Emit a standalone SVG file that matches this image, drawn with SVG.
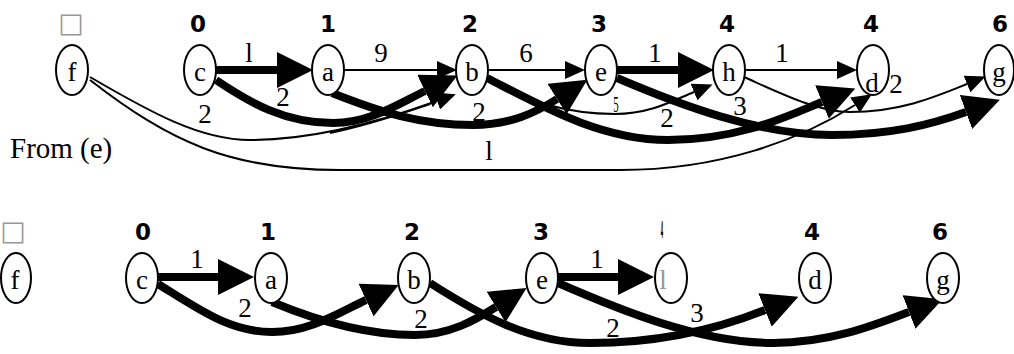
<svg xmlns="http://www.w3.org/2000/svg" width="1014" height="354" viewBox="0 0 1014 354">
  <style>
    .node ellipse { fill: #fff; stroke: #000; stroke-width: 2; }
    .nlabel { font-family: "Liberation Serif", "Times New Roman", serif; font-size: 27px; text-anchor: middle; fill: #000; }
    .dist { font-family: "DejaVu Sans", "Liberation Sans", sans-serif; font-size: 23px; font-weight: bold; text-anchor: middle; fill: #000; }
    .tofu { font-family: "DejaVu Sans", sans-serif; font-size: 27px; text-anchor: middle; fill: #999; }
    .elabel { font-family: "Liberation Serif", "Times New Roman", serif; font-size: 27px; text-anchor: middle; fill: #000; }
    .thick { fill: none; stroke: #000; stroke-width: 8; }
    .thin { fill: none; stroke: #000; stroke-width: 2; }
    .thick-arrow { marker-end: url(#arrow-thick); }
    .thin-arrow { marker-end: url(#arrow-thin); }
  </style>
  <defs>
    <marker id="arrow-thick" markerUnits="userSpaceOnUse" viewBox="0 0 36 36" refX="0" refY="18" markerWidth="36" markerHeight="36" orient="auto">
      <path d="M0,0 L36,18 L0,36 Z" fill="#000"/>
    </marker>
    <marker id="arrow-thin" markerUnits="userSpaceOnUse" viewBox="0 0 20 18" refX="0" refY="9" markerWidth="20" markerHeight="18" orient="auto">
      <path d="M0,0 L20,9 L0,18 Z" fill="#000"/>
    </marker>
  </defs>
  <rect width="1014" height="354" fill="#fff"/>

  <!-- caption -->
  <text x="10" y="158" font-family="Liberation Serif, serif" font-size="29">From (e)</text>

  <!-- connectors: full graph (top) and shortest-path tree (bottom) -->
  <g id="connectors">
    <!-- top: straight edges -->
    <path class="thick thick-arrow" d="M216,70 L277,70"/>
    <path class="thin thin-arrow" d="M344,70 L437,70"/>
    <path class="thin thin-arrow" d="M488,70 L565,70"/>
    <path class="thick thick-arrow" d="M617,70 L678,70"/>
    <path class="thin thin-arrow" d="M745,70 L837,70"/>
    <!-- top: thin curved edges -->
    <path class="thin thin-arrow" d="M90,77 C150,112 200,140 250,140 C320,140 390,118 437,101"/>
    <path class="thin" d="M330,133 C370,125 400,114 430,104"/>
    <path class="thin thin-arrow" d="M90,80 C170,142 230,170 340,170 L620,170 C720,170 800,140 855,105"/>
    <path class="thin thin-arrow" d="M488,80 C525,100 565,114 615,114 C650,114 672,101 694,92"/>
    <path class="thin thin-arrow" d="M744,77 C780,93 818,112 850,112 C900,112 935,97 967,84"/>
    <!-- top: thick curved edges -->
    <path class="thick thick-arrow" d="M216,80 C250,103 285,123 333,123 C370,123 400,103 425,91"/>
    <path class="thick thick-arrow" d="M332,93 C380,112 420,125 473,125 C510,125 535,113 557,99"/>
    <path class="thick thick-arrow" d="M487,78 C540,105 600,140 668,140 C740,140 790,115 822,102"/>
    <path class="thick thick-arrow" d="M617,78 C680,105 760,135 832,135 C890,135 930,125 966,112"/>

    <!-- top: weights -->
    <text class="elabel" x="249" y="62">l</text>
    <text class="elabel" x="381" y="62">9</text>
    <text class="elabel" x="526" y="62">6</text>
    <text class="elabel" x="655" y="62">1</text>
    <text class="elabel" x="782" y="62">1</text>
    <text class="elabel" x="283" y="106" font-size="22">2</text>
    <text class="elabel" x="205" y="123">2</text>
    <text class="elabel" x="479" y="121">2</text>
    <text class="elabel" x="667" y="127">2</text>
    <text class="elabel" x="740" y="115">3</text>
    <text class="elabel" transform="translate(616,112) scale(0.4,0.85)">5</text>
    <text class="elabel" x="489" y="160">l</text>
    <text class="elabel" x="896" y="93">2</text>

    <!-- bottom: tree edges -->
    <path class="thick thick-arrow" d="M158,277 L218,277"/>
    <path class="thick thick-arrow" d="M558,277 L618,277"/>
    <path class="thick thick-arrow" d="M158,284 C200,310 230,332 272,332 C310,332 340,312 366,300"/>
    <path class="thick thick-arrow" d="M272,302 C320,322 370,335 415,335 C450,335 475,320 496,307"/>
    <path class="thick thick-arrow" d="M430,283 C480,315 530,343 590,343 C660,343 720,328 765,310"/>
    <path class="thick thick-arrow" d="M558,283 C620,310 700,343 773,343 C830,343 875,325 909,312"/>

    <!-- bottom: weights -->
    <text class="elabel" x="197" y="268">1</text>
    <text class="elabel" x="597" y="268">1</text>
    <text class="elabel" x="245" y="317">2</text>
    <text class="elabel" x="421" y="328">2</text>
    <text class="elabel" x="613" y="337">2</text>
    <text class="elabel" x="697" y="322">3</text>
  </g>

  <!-- top row nodes -->
  <g id="top-f" class="node"><ellipse cx="72" cy="70" rx="16" ry="25"/><text class="nlabel" x="72" y="81">f</text><text class="tofu" x="71" y="32">□</text></g>
  <g id="top-c" class="node"><ellipse cx="200" cy="70" rx="16" ry="25"/><text class="nlabel" x="200" y="81">c</text><text class="dist" x="198" y="32">0</text></g>
  <g id="top-a" class="node"><ellipse cx="328" cy="70" rx="16" ry="25"/><text class="nlabel" x="328" y="81">a</text><text class="dist" x="328" y="32">1</text></g>
  <g id="top-b" class="node"><ellipse cx="472" cy="70" rx="16" ry="25"/><text class="nlabel" x="472" y="81">b</text><text class="dist" x="470" y="32">2</text></g>
  <g id="top-e" class="node"><ellipse cx="601" cy="70" rx="16" ry="25"/><text class="nlabel" x="601" y="81">e</text><text class="dist" x="599" y="32">3</text></g>
  <g id="top-h" class="node"><ellipse cx="729" cy="70" rx="16" ry="25"/><text class="nlabel" x="729" y="81">h</text><text class="dist" x="727" y="32">4</text></g>
  <g id="top-d" class="node"><ellipse cx="873" cy="70" rx="16" ry="25"/><text class="nlabel" x="872" y="92">d</text><text class="dist" x="871" y="32">4</text></g>
  <g id="top-g" class="node"><ellipse cx="999" cy="70" rx="15" ry="25"/><text class="nlabel" x="999" y="81">g</text><text class="dist" x="1000" y="32">6</text></g>

  <!-- bottom row nodes -->
  <g id="tree-f" class="node"><ellipse cx="16" cy="278" rx="15" ry="25"/><text class="nlabel" x="15" y="289">f</text><text class="tofu" x="13" y="240">□</text></g>
  <g id="tree-c" class="node"><ellipse cx="142" cy="278" rx="16" ry="25"/><text class="nlabel" x="142" y="289">c</text><text class="dist" x="143" y="240">0</text></g>
  <g id="tree-a" class="node"><ellipse cx="271" cy="278" rx="16" ry="25"/><text class="nlabel" x="271" y="289">a</text><text class="dist" x="268" y="240">1</text></g>
  <g id="tree-b" class="node"><ellipse cx="414" cy="278" rx="16" ry="25"/><text class="nlabel" x="414" y="289">b</text><text class="dist" x="412" y="240">2</text></g>
  <g id="tree-e" class="node"><ellipse cx="542" cy="278" rx="16" ry="25"/><text class="nlabel" x="542" y="289">e</text><text class="dist" x="541" y="240">3</text></g>
  <g id="tree-h" class="node"><ellipse cx="671" cy="278" rx="16" ry="25"/><text class="nlabel" style="fill:#999" x="663" y="289">l</text><text class="dist" transform="translate(662,238) scale(0.15,1)">4</text></g>
  <g id="tree-d" class="node"><ellipse cx="815" cy="278" rx="16" ry="25"/><text class="nlabel" x="815" y="289">d</text><text class="dist" x="812" y="240">4</text></g>
  <g id="tree-g" class="node"><ellipse cx="943" cy="278" rx="16" ry="25"/><text class="nlabel" x="943" y="289">g</text><text class="dist" x="940" y="240">6</text></g>
</svg>
